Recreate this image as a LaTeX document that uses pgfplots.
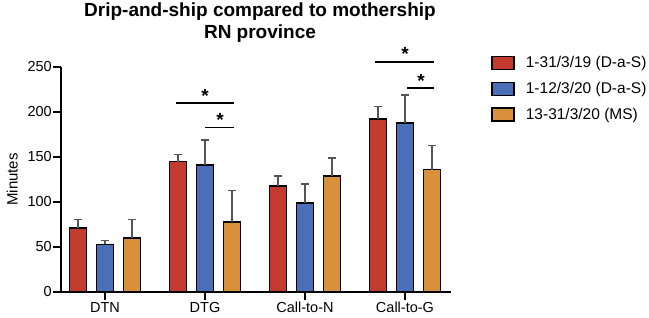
\documentclass[border=0pt]{standalone}
\usepackage{pgfplots}
\pgfplotsset{compat=1.18}
\usepackage{fontspec}
\setmainfont{Liberation Sans}
\definecolor{cred}{HTML}{C23B2E}
\definecolor{cblue}{HTML}{4A6FB8}
\definecolor{corange}{HTML}{D8913A}
\definecolor{cerr}{HTML}{555555}
\pgfplotstableread{
x y e
0 71 10
1 145 8
2 118 11
3 192 14
}\red
\pgfplotstableread{
x y e
0 53 4
1 141 28
2 99 21
3 188 31
}\blue
\pgfplotstableread{
x y e
0 60 21
1 78 35
2 129 20
3 136 27
}\orange
\begin{document}
\begin{tikzpicture}
\useasboundingbox (0,0) rectangle (649pt,317pt);
\node[font=\fontsize{19}{21.5}\selectfont\bfseries, align=center] at (260pt,294.5pt) {Drip-and-ship compared to mothership\\RN province};
\begin{axis}[
  at={(61pt,25pt)}, anchor=south west, scale only axis,
  width=390pt, height=225pt,
  xmin=-0.44, xmax=3.46, ymin=0, ymax=250,
  axis x line=bottom, axis y line=left,
  axis line style={-, line width=1.6pt},
  ytick={0,50,...,250},
  xtick={0,1,2,3},
  xticklabels={DTN,DTG,Call-to-N,Call-to-G},
  tick align=outside, major tick length=8pt,
  tick style={line width=1.6pt, black},
  /pgf/number format/assume math mode=true,
  ticklabel style={font=\fontsize{14.5}{16}\selectfont},
  yticklabel style={inner xsep=1pt},
  xticklabel style={inner ysep=2pt},
  ylabel={Minutes},
  ylabel style={font=\fontsize{15}{17}\selectfont, at={(axis description cs:-0.125,0.5)}, anchor=center},
  clip=false,
  ybar, bar width=17pt,
  legend style={at={(1.1026,1.057)}, anchor=north west, draw=none, fill=none,
    font=\fontsize{15.5}{18}\selectfont, row sep=9.2pt, inner sep=0pt},
  legend cell align=left,
  legend image code/.code={\draw[#1,/tikz/.cd,draw=black,line width=1.3pt] (0pt,-6.5pt) rectangle (22pt,6.5pt); \path[draw=none,fill=none] (0pt,0pt) -- (32pt,0pt);},
  error bars/error bar style={cerr, line width=1.2pt},
  error bars/error mark options={rotate=90, mark size=4pt, cerr, line width=1.2pt},
]
\addplot[bar shift=-27pt, fill=cred, draw=black, line width=1.6pt,
  error bars/.cd, y dir=plus, y explicit] table[x=x, y=y, y error=e] {\red};
\addlegendentry{1-31/3/19 (D-a-S)}
\addplot[bar shift=0pt, fill=cblue, draw=black, line width=1.6pt,
  error bars/.cd, y dir=plus, y explicit] table[x=x, y=y, y error=e] {\blue};
\addlegendentry{1-12/3/20 (D-a-S)}
\addplot[bar shift=27pt, fill=corange, draw=black, line width=1.6pt,
  error bars/.cd, y dir=plus, y explicit] table[x=x, y=y, y error=e] {\orange};
\addlegendentry{13-31/3/20 (MS)}
\addplot[sharp plot, black, line width=1.6pt, forget plot] coordinates {(0.71,210) (1.29,210)};
\addplot[sharp plot, black, line width=1.6pt, forget plot] coordinates {(1.0,183) (1.29,183)};
\addplot[sharp plot, black, line width=1.6pt, forget plot] coordinates {(2.70,255.5) (3.29,255.5)};
\addplot[sharp plot, black, line width=1.6pt, forget plot] coordinates {(3.02,227) (3.29,227)};
\node[font=\fontsize{19}{19}\selectfont\bfseries] at (axis cs:1.0,218) {*};
\node[font=\fontsize{19}{19}\selectfont\bfseries] at (axis cs:1.15,191) {*};
\node[font=\fontsize{19}{19}\selectfont\bfseries] at (axis cs:3.0,264) {*};
\node[font=\fontsize{19}{19}\selectfont\bfseries] at (axis cs:3.16,235) {*};
\end{axis}
\end{tikzpicture}
\end{document}
